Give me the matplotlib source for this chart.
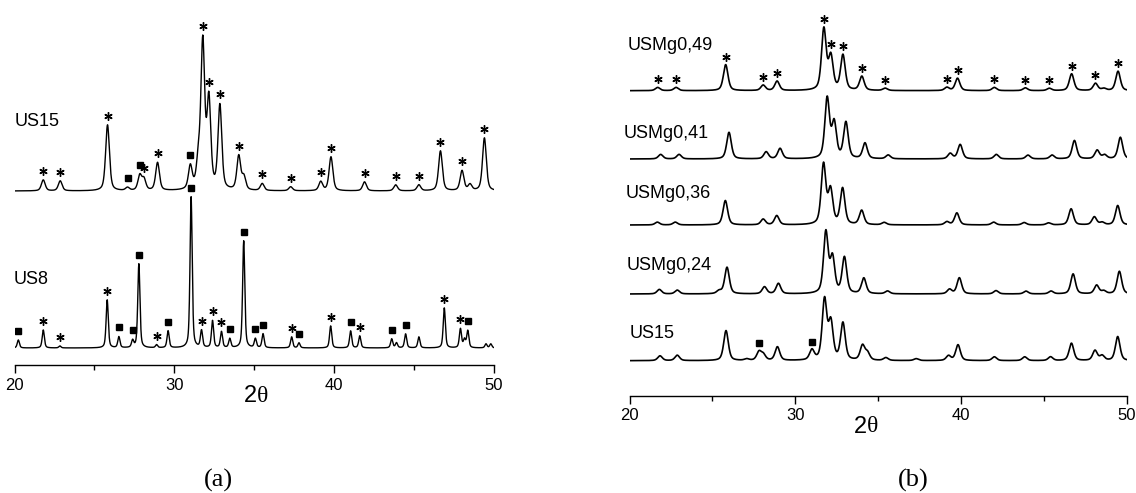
import numpy as np
import matplotlib
matplotlib.use('Agg')
import matplotlib.pyplot as plt

# ---------------- data (2theta, intensity in a.u.) ----------------
# panel (a)
us15a_pos = [21.8, 22.86, 25.82, 27.07, 27.84, 28.1, 28.95, 31.0, 31.5, 31.78, 32.16, 32.85, 34.03, 34.35,
             35.5, 37.28, 39.16, 39.8, 41.9, 43.85, 45.3, 46.65, 48.0, 48.5, 49.4]
us15a_int = [11, 10, 66, 3, 15, 11, 28, 23, 25, 146, 88, 84, 34, 13,
             7, 4, 9, 34, 9, 6, 6, 40, 20, 6, 53]
us15a_star = [21.8, 22.86, 25.82, 28.1, 28.95, 31.78, 32.16, 32.85, 34.03, 35.5, 37.28, 39.16, 39.8,
              41.9, 43.85, 45.3, 46.65, 48.0, 49.4]
us15a_square = [27.07, 27.84, 31.0]

us8_pos = [20.24, 21.8, 22.84, 25.8, 26.53, 27.39, 27.78, 28.89, 29.61, 31.05, 31.7, 32.39, 32.95,
           33.47, 34.34, 35.07, 35.55, 37.34, 37.8, 39.78, 41.03, 41.6, 43.6, 43.9, 44.47, 45.3,
           46.89, 47.9, 48.15, 48.36, 49.5, 49.8]
us8_int = [8, 18, 2, 48, 11, 7, 84, 3, 17, 151, 17, 27, 16,
           9, 107, 9, 14, 11, 5, 22, 17, 12, 9, 5, 14, 11,
           40, 19, 8, 17, 4, 4]
us8_star = [21.8, 22.84, 25.8, 28.89, 31.7, 32.39, 32.95, 37.34, 39.78, 41.6, 46.89, 47.9]
us8_square = [20.24, 26.53, 27.39, 27.78, 29.61, 31.05, 33.47, 34.34, 35.07, 35.55, 37.8, 41.03,
              43.6, 44.47, 48.36]

# panel (b)
mg49_pos = [21.7, 22.81, 25.8, 28.06, 28.9, 31.72, 32.14, 32.87, 34.01, 35.42, 39.14, 39.78, 42.0,
            43.87, 45.32, 46.66, 48.1, 48.6, 49.46]
mg49_int = [3.2, 3.2, 26, 5.4, 9.4, 61, 33, 35, 14, 2.3, 3.2, 12.4, 3.2,
            2.8, 2.3, 16.8, 7.2, 2, 19.4]
mg49_star = [21.7, 22.81, 25.8, 28.06, 28.9, 31.72, 32.14, 32.87, 34.01, 35.42, 39.14, 39.78, 42.0,
             43.87, 45.32, 46.66, 48.1, 49.46]

mg41_pos = [21.88, 22.99, 26.0, 28.24, 29.08, 31.92, 32.34, 33.05, 34.2, 35.6, 39.34, 39.94, 42.12,
            44.03, 45.48, 46.83, 48.2, 48.65, 49.6]
mg41_int = [4.5, 4.5, 26.6, 7, 10.4, 60, 35, 36, 15.6, 3.8, 5.4, 14.4, 4.5,
            3.8, 3.8, 18.4, 8.6, 3.8, 21.6]

mg36_pos = [21.68, 22.76, 25.78, 28.06, 28.88, 31.7, 32.12, 32.85, 34.0, 35.36, 39.14, 39.74, 41.96,
            43.8, 45.27, 46.63, 48.03, 48.5, 49.44]
mg36_int = [2.8, 2.8, 24.4, 5.7, 9.2, 60, 34, 36, 14.3, 2.4, 3.1, 12, 2.8,
            2.4, 2, 16.1, 8, 2.4, 19.4]

mg24_pos = [21.8, 22.88, 25.4, 25.88, 28.14, 28.98, 31.84, 32.24, 32.96, 34.13, 35.56, 39.3, 39.89,
            42.1, 43.91, 45.42, 46.75, 48.17, 48.6, 49.54]
mg24_int = [4.5, 3.8, 2.8, 26.6, 7, 10.4, 61, 35, 36, 15.6, 2.8, 4.5, 16.1,
            3.3, 2.8, 2.8, 20, 8.6, 2.8, 22.6]

us15b_pos = [21.84, 22.88, 25.82, 27.07, 27.81, 28.07, 28.92, 31.0, 31.76, 32.14, 32.87, 34.05, 34.35,
             35.46, 37.29, 39.24, 39.81, 42.0, 43.83, 45.39, 46.65, 48.07, 48.5, 49.44]
us15b_int = [4.8, 5.4, 30, 1.5, 8.5, 5.6, 13.6, 10, 60, 37, 37, 14.6, 7.2,
             2.8, 1.9, 4.8, 15.8, 3.8, 3.8, 3.8, 17.4, 10, 4.8, 24]
us15b_square = [27.81, 31.0]

W, H = 1136, 493
tt = np.linspace(20, 50, 3001)


def pattern(pos, inten, w):
    # pseudo-voigt line (half gauss, half lorentz) for every reflection
    y = np.zeros_like(tt)
    for p, h in zip(pos, inten):
        d = (tt - p) / w
        y += h * (0.5 / (1 + d ** 2) + 0.5 * np.exp(-np.log(2) * d ** 2))
    return y


def setup_axis(ax, top):
    ax.set_xlim(20, 50)
    ax.set_ylim(0, top)
    for s in ['left', 'right', 'top']:
        ax.spines[s].set_visible(False)
    ax.spines['bottom'].set_linewidth(1.0)
    ax.set_yticks([])
    ax.set_xticks([20, 30, 40, 50])
    ax.set_xticks([25, 35, 45], minor=True)
    ax.tick_params(axis='x', which='major', direction='out', length=6, width=1.0,
                   labelsize=12, pad=3)
    ax.tick_params(axis='x', which='minor', direction='out', length=3.5, width=1.0)
    for lab in ax.get_xticklabels():
        lab.set_fontfamily('Liberation Sans')
    ax.patch.set_alpha(0)


def marks(ax, y, base, stars, squares, dy):
    if stars:
        ys = np.interp(stars, tt, y) + base + dy
        ax.plot(stars, ys, linestyle='none', marker=(6, 2, 0), ms=6, mew=1.0, color='black')
    if squares:
        ys = np.interp(squares, tt, y) + base + dy
        ax.plot(squares, ys, linestyle='none', marker='s', ms=5, color='black')


fig = plt.figure(figsize=(W / 100, H / 100), dpi=100)

# ---------------- panel (a) ----------------
axa = fig.add_axes([14.5 / W, 1 - 365 / H, (494 - 14.5) / W, 355 / H])
setup_axis(axa, 355)
y15 = pattern(us15a_pos, us15a_int, 0.14)
y8 = pattern(us8_pos, us8_int, 0.08)
axa.plot(tt, y15 + 174, color='black', lw=1.0)
axa.plot(tt, y8 + 17, color='black', lw=1.0)
marks(axa, y15, 174, us15a_star, us15a_square, 9)
marks(axa, y8, 17, us8_star, us8_square, 9)

# ---------------- panel (b) ----------------
axb = fig.add_axes([629.5 / W, 1 - 396 / H, (1127 - 629.5) / W, 386 / H])
setup_axis(axb, 386)
curves_b = [(mg49_pos, mg49_int, 305.3), (mg41_pos, mg41_int, 237),
            (mg36_pos, mg36_int, 171), (mg24_pos, mg24_int, 102),
            (us15b_pos, us15b_int, 35.3)]
ys_b = []
for pos, inten, base in curves_b:
    yb = pattern(pos, inten, 0.165)
    ys_b.append(yb)
    axb.plot(tt, yb + base, color='black', lw=1.2)
marks(axb, ys_b[0], 305.3, mg49_star, [], 8)
marks(axb, ys_b[4], 35.3, [], us15b_square, 7)

# ---------------- texts ----------------
lab_font = dict(fontsize=13, family='Liberation Sans', va='center', ha='left')
fig.text(14.5 / W, 1 - 121 / H, 'US15', **lab_font)
fig.text(13.5 / W, 1 - 280 / H, 'US8', **lab_font)
fig.text(628 / W, 1 - 45 / H, 'USMg0,49', **lab_font)
fig.text(624 / W, 1 - 133 / H, 'USMg0,41', **lab_font)
fig.text(625.5 / W, 1 - 194 / H, 'USMg0,36', **lab_font)
fig.text(626.5 / W, 1 - 266 / H, 'USMg0,24', **lab_font)
fig.text(630 / W, 1 - 333 / H, 'US15', **lab_font)

for cx, cy in [(257, 396), (867, 427)]:
    fig.text(cx / W, 1 - cy / H, '2', fontsize=17, family='Liberation Sans', ha='right', va='center')
    fig.text(cx / W, 1 - cy / H, 'θ', fontsize=17, family='Liberation Serif', ha='left', va='center')

fig.text(218 / W, 1 - 480 / H, '(a)', fontsize=19, family='Liberation Serif', ha='center', va='center')
fig.text(913 / W, 1 - 480 / H, '(b)', fontsize=19, family='Liberation Serif', ha='center', va='center')

fig.savefig('out.png', dpi=100)
